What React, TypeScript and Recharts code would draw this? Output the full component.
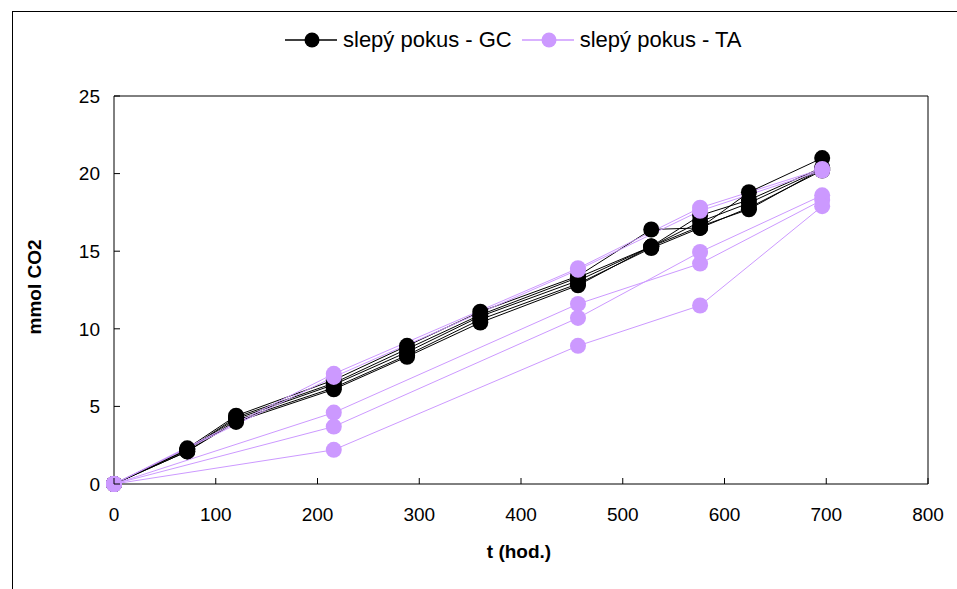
import React from 'react';
import { LineChart, Line, XAxis, YAxis, ReferenceLine } from 'recharts';

// time points (hours)
const gcTimes = [0, 72, 120, 216, 288, 360, 456, 528, 576, 624, 696];
const taTimes = [0, 216, 456, 576, 696];

// slepý pokus - GC (mmol CO2)
const gc1 = [0, 2.3, 4.4, 6.7, 8.9, 11.1, 13.4, 16.4, 16.5, 18.8, 21.0];
const gc2 = [0, 2.2, 4.3, 6.5, 8.7, 10.9, 13.3, 15.3, 17.3, 18.3, 20.4];
const gc3 = [0, 2.2, 4.2, 6.4, 8.5, 10.8, 13.1, 15.3, 16.9, 18.1, 20.3];
const gc4 = [0, 2.1, 4.1, 6.2, 8.3, 10.6, 12.9, 15.2, 16.5, 17.8, 20.2];
const gc5 = [0, 2.1, 4.0, 6.1, 8.2, 10.4, 12.8, 15.3, 16.6, 17.7, 20.3];

// slepý pokus - TA (mmol CO2)
const ta1 = [0, 7.1, 13.9, 17.8, 20.3];
const ta2 = [0, 6.9, 13.8, 17.6, 20.2];
const ta3 = [0, 4.6, 11.6, 14.2, 18.3];
const ta4 = [0, 3.7, 10.7, 14.95, 18.6];
const ta5 = [0, 2.2, 8.9, 11.5, 17.9];

const xTicks = [0, 100, 200, 300, 400, 500, 600, 700, 800];
const yTicks = [0, 5, 10, 15, 20, 25];

const legendLabels = ['slepý pokus - GC', 'slepý pokus - TA'];

const toData = (times: number[], vals: number[]) => times.map((t, i) => ({ t, v: vals[i] }));

const gcSeries = [gc1, gc2, gc3, gc4, gc5].map((s) => toData(gcTimes, s));
const taSeries = [ta1, ta2, ta3, ta4, ta5].map((s) => toData(taTimes, s));

const BLACK = '#000000';
const PURPLE = '#CC99FF';
const FONT = '"Liberation Sans", Arial, sans-serif';

const X_MARGIN = 24;
const Y_MARGIN = 14;

const XTick = (props: any) => {
  const { x, y, payload } = props;
  const axisY = y - X_MARGIN;
  return (
    <g>
      <line x1={x} x2={x} y1={axisY} y2={axisY - 6} stroke="#000" strokeWidth={1} />
      <text x={x} y={y} dy="0.71em" textAnchor="middle" fontSize={19} fontFamily={FONT} fill="#000">
        {payload.value}
      </text>
    </g>
  );
};

const YTick = (props: any) => {
  const { x, y, payload } = props;
  const axisX = x + Y_MARGIN;
  return (
    <g>
      <line x1={axisX} x2={axisX + 6} y1={y} y2={y} stroke="#000" strokeWidth={1} />
      <text x={x} y={y} dy="0.355em" textAnchor="end" fontSize={19} fontFamily={FONT} fill="#000">
        {payload.value}
      </text>
    </g>
  );
};

const LegendItem = ({ color, label, gap }: { color: string; label: string; gap: number }) => (
  <div style={{ display: 'flex', alignItems: 'center', marginRight: gap }}>
    <svg width={52} height={20}>
      <line x1={0} x2={52} y1={10} y2={10} stroke={color} strokeWidth={1.5} />
      <circle cx={27} cy={10} r={7.5} fill={color} />
    </svg>
    <span style={{ marginLeft: 6, fontSize: 22, fontFamily: FONT, color: '#000', whiteSpace: 'nowrap' }}>{label}</span>
  </div>
);

export default function App() {
  return (
    <div style={{ position: 'fixed', left: 0, top: 0, width: 957, height: 589, overflow: 'hidden', background: '#fff' }}>
      <div
        style={{
          position: 'absolute',
          left: 12,
          top: 11,
          width: 1100,
          height: 800,
          border: '1px solid #000',
        }}
      />
      <div style={{ position: 'absolute', left: 0, top: 0 }}>
        <LineChart width={957} height={589} margin={{ top: 96, right: 29, bottom: 75, left: 64 }}>
          <XAxis
            dataKey="t"
            type="number"
            domain={[0, 800]}
            ticks={xTicks}
            allowDuplicatedCategory={false}
            height={30}
            tickSize={0}
            tickMargin={X_MARGIN}
            tickLine={false}
            axisLine={{ stroke: '#000', strokeWidth: 1 }}
            tick={<XTick />}
            interval={0}
          />
          <YAxis
            type="number"
            domain={[0, 25]}
            ticks={yTicks}
            width={50}
            tickSize={0}
            tickMargin={Y_MARGIN}
            tickLine={false}
            axisLine={{ stroke: '#000', strokeWidth: 1 }}
            tick={<YTick />}
            interval={0}
          />
          <ReferenceLine y={25} stroke="#000" strokeWidth={1} />
          <ReferenceLine x={800} stroke="#000" strokeWidth={1} />
          {gcSeries.map((d, i) => (
            <Line
              key={'gc' + i}
              data={d}
              dataKey="v"
              type="linear"
              stroke={BLACK}
              strokeWidth={1}
              dot={{ r: 8, fill: BLACK, stroke: BLACK, strokeWidth: 0 }}
              activeDot={false}
              isAnimationActive={false}
              legendType="none"
            />
          ))}
          {taSeries.map((d, i) => (
            <Line
              key={'ta' + i}
              data={d}
              dataKey="v"
              type="linear"
              stroke={PURPLE}
              strokeWidth={1}
              dot={{ r: 8, fill: PURPLE, stroke: PURPLE, strokeWidth: 0 }}
              activeDot={false}
              isAnimationActive={false}
              legendType="none"
            />
          ))}
        </LineChart>
      </div>
      <div style={{ position: 'absolute', left: 285, top: 27, display: 'flex', alignItems: 'center' }}>
        <LegendItem color={BLACK} label={legendLabels[0]} gap={10} />
        <LegendItem color={PURPLE} label={legendLabels[1]} gap={0} />
      </div>
      <div
        style={{
          position: 'absolute',
          left: 35,
          top: 287,
          transform: 'translate(-50%, -50%) rotate(-90deg)',
          fontSize: 19,
          fontWeight: 'bold',
          fontFamily: FONT,
          whiteSpace: 'nowrap',
          color: '#000',
        }}
      >
        mmol CO2
      </div>
      <div
        style={{
          position: 'absolute',
          left: 519,
          top: 552,
          transform: 'translate(-50%, -50%)',
          fontSize: 19,
          fontWeight: 'bold',
          fontFamily: FONT,
          whiteSpace: 'nowrap',
          color: '#000',
        }}
      >
        t (hod.)
      </div>
    </div>
  );
}
